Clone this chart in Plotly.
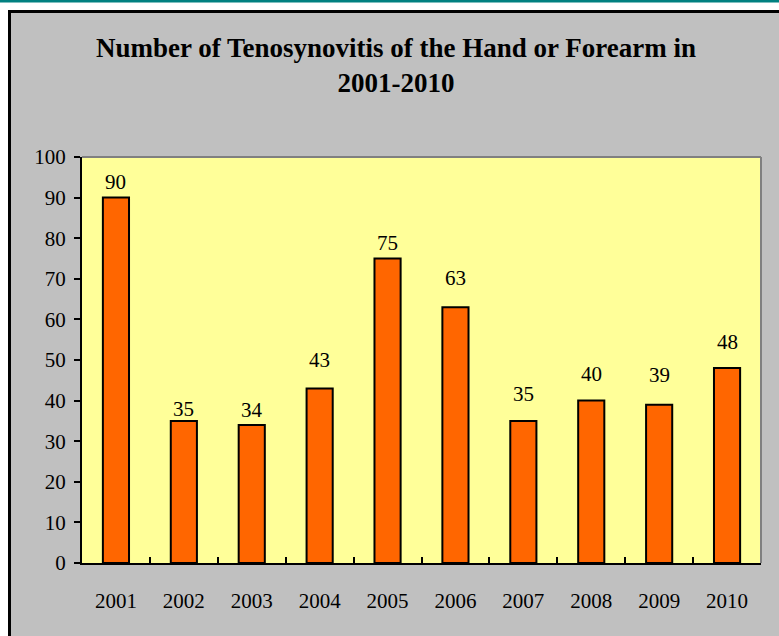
import plotly.graph_objects as go

years = ["2001", "2002", "2003", "2004", "2005", "2006", "2007", "2008", "2009", "2010"]
cases = [90, 35, 34, 43, 75, 63, 35, 40, 39, 48]
y_ticks = [0, 10, 20, 30, 40, 50, 60, 70, 80, 90, 100]
title_text = "Number of Tenosynovitis of the Hand or Forearm in<br>2001-2010"

W, H = 779, 636
L, R, T, B = 82, 18, 157, 73
PW, PH = W - L - R, H - T - B

def px(x):
    return (x - L) / PW

def py(y):
    return 1 - (y - T) / PH

# label offsets above bars (pixels), mimicking the original placement
label_shift = [2, -2, 1, 14, 2, 15, 13, 13, 16, 12]

FONT = "Liberation Serif, Times New Roman, serif"

fig = go.Figure()
fig.add_trace(go.Bar(
    x=list(range(len(years))), y=cases,
    marker=dict(color="#FF6600", line=dict(color="black", width=2)),
    customdata=years,
    hovertemplate="%{customdata}: %{y}<extra></extra>",
))

annotations = []
for i, (v, s) in enumerate(zip(cases, label_shift)):
    annotations.append(dict(
        x=i, y=v, xref="x", yref="y", text=str(v), showarrow=False,
        yanchor="bottom", yshift=s, font=dict(family=FONT, size=21, color="black"),
    ))

shapes = [
    # teal top line
    dict(type="rect", xref="paper", yref="paper", x0=px(-5), x1=px(W + 5), y0=py(0), y1=py(2.5),
         fillcolor="#008080", line=dict(width=0), layer="below"),
    # gray chart area with black border
    dict(type="rect", xref="paper", yref="paper", x0=px(9.5), x1=px(W + 20), y0=py(11.5), y1=py(H + 20),
         fillcolor="#C0C0C0", line=dict(color="black", width=3), layer="below"),
    # plot area fill
    dict(type="rect", xref="paper", yref="paper", x0=0, x1=1, y0=0, y1=1,
         fillcolor="#FFFF99", line=dict(width=0), layer="below"),
    # gray top/right border of plot area
    dict(type="line", xref="paper", yref="paper", x0=0, x1=1, y0=1, y1=1,
         line=dict(color="#808080", width=2), layer="below"),
    dict(type="line", xref="paper", yref="paper", x0=1, x1=1, y0=0, y1=1,
         line=dict(color="#808080", width=2), layer="below"),
]

fig.update_layout(
    width=W, height=H,
    margin=dict(l=L, r=R, t=T, b=B, pad=0, autoexpand=False),
    paper_bgcolor="white",
    plot_bgcolor="#FFFF99",
    showlegend=False,
    bargap=0.615,
    font=dict(family=FONT, size=21, color="black"),
    title=dict(
        text=title_text,
        font=dict(family=FONT, size=27, color="black", weight="bold"),
        xref="paper", x=px(396), xanchor="center",
        yref="container", y=1 - 57 / H, yanchor="middle",
    ),
    xaxis=dict(
        range=[-0.5, len(years) - 0.5],
        tickmode="array",
        tickvals=list(range(len(years))),
        ticktext=years,
        tickangle=0,
        automargin=False,
        showgrid=False, zeroline=False,
        showline=True, linecolor="black", linewidth=2,
        ticks="",
        ticklabelstandoff=18,
        tickfont=dict(family=FONT, size=21, color="black"),
        minor=dict(tickmode="array", tickvals=[i + 0.5 for i in range(len(years) - 1)],
                   ticks="inside", ticklen=6, tickwidth=2, tickcolor="black", showgrid=False),
    ),
    yaxis=dict(
        range=[0, 100],
        tickvals=y_ticks,
        automargin=False,
        showgrid=False, zeroline=False,
        showline=True, linecolor="black", linewidth=2,
        ticks="outside", ticklen=6, tickwidth=2, tickcolor="black",
        ticklabelstandoff=4,
        tickfont=dict(family=FONT, size=21, color="black"),
    ),
    annotations=annotations,
    shapes=shapes,
)

fig.write_html(
    "out.html",
    config={"displayModeBar": False},
    post_script="document.body.style.margin='0';document.body.style.overflow='hidden';",
)
